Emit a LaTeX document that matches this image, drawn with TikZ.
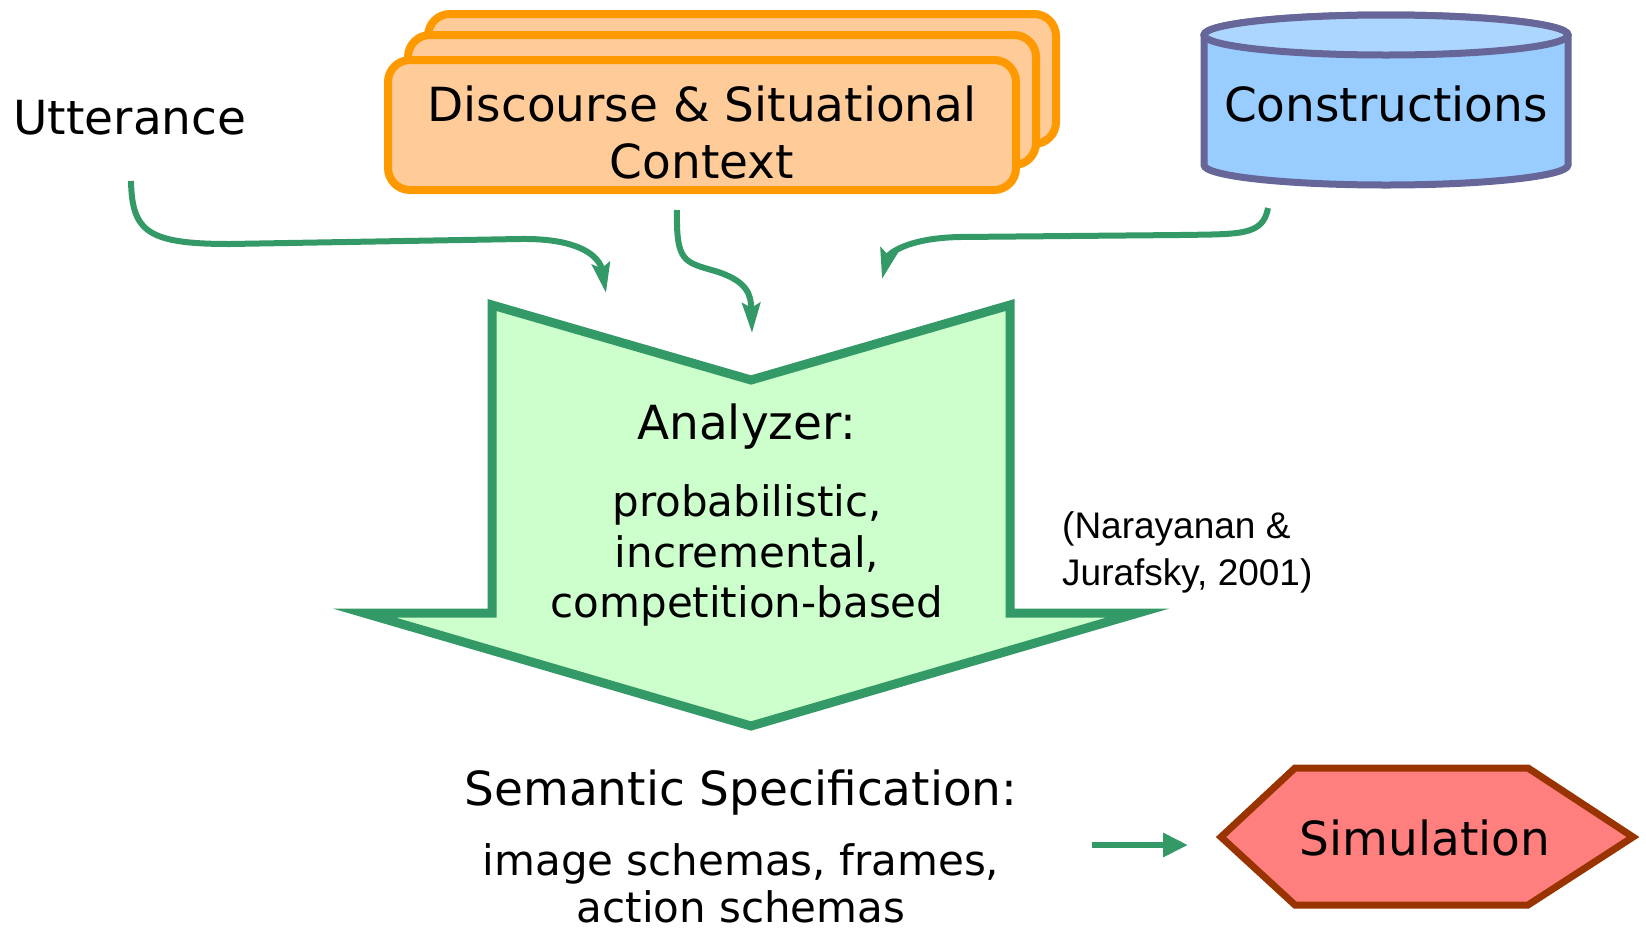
\documentclass[tikz,border=0pt]{standalone}
\usepackage{fontspec}
\setmainfont{DejaVu Sans}
\newfontfamily\citefont{Liberation Sans}
\usetikzlibrary{arrows.meta}
\definecolor{arrgreen}{HTML}{339966}
\definecolor{anfill}{HTML}{CCFFCC}
\definecolor{ctxorange}{HTML}{FF9900}
\definecolor{ctxfill}{HTML}{FFCC99}
\definecolor{cylstroke}{HTML}{666699}
\definecolor{cylbody}{HTML}{99CCFF}
\definecolor{cyltop}{HTML}{ADD6FF}
\definecolor{simfill}{HTML}{FF7F7F}
\definecolor{simstroke}{HTML}{993300}
\begin{document}
\begin{tikzpicture}[x=1pt,y=-1pt,
  big/.style={font=\fontsize{47}{57}\selectfont, anchor=base, inner sep=0pt},
  small/.style={font=\fontsize{42}{50}\selectfont, anchor=base, inner sep=0pt},
  cite/.style={font=\citefont\fontsize{37}{45}\selectfont, anchor=base west, inner sep=0pt},
  flow/.style={draw=arrgreen, line width=6pt, -{Stealth[length=30pt,width=18pt,inset=5pt]}},
  ctxbox/.style={draw=ctxorange, fill=ctxfill, line width=8pt, rounded corners=22pt, minimum width=628pt, minimum height=130pt, inner sep=0pt},
]
\useasboundingbox (0,0) rectangle (1646,930);

% Utterance
\node[big] (utt) at (130,134) {Utterance};

% Stacked context boxes
\node[ctxbox] (ctx3) at (742,79) {};
\node[ctxbox] (ctx2) at (722,100) {};
\node[ctxbox] (ctx1) at (702,125) {};
\node[big] (ctxa) at (702,121) {Discourse \& Situational};
\node[big] (ctxb) at (702,178) {Context};

% Constructions cylinder
\filldraw[fill=cylbody, draw=cylstroke, line width=7pt]
  (1204,35) -- (1204,165) arc[start angle=180, end angle=0, x radius=182, y radius=20]
  -- (1568,35) arc[start angle=0, end angle=-180, x radius=182, y radius=20] -- cycle;
\filldraw[fill=cyltop, draw=cylstroke, line width=7pt] (1386,35) ellipse[x radius=182, y radius=20];
\node[big] (cons) at (1386,121) {Constructions};

% Analyzer big arrow
\draw[draw=arrgreen, fill=anfill, line width=9pt]
  (492,305) -- (751,380) -- (1010,305) -- (1010,613) -- (1138,613)
  -- (751,726) -- (364,613) -- (492,613) -- cycle;
\node[big] (an) at (747,439) {Analyzer:};
\node[small] (an1) at (747,516) {probabilistic,};
\node[small] (an2) at (747,567) {incremental,};
\node[small] (an3) at (747,617) {competition-based};

% Citation
\node[cite] (cit1) at (1062,538) {(Narayanan \&};
\node[cite] (cit2) at (1062,585) {Jurafsky, 2001)};

% Semantic specification
\node[big] (sem) at (741,805) {Semantic Specification:};
\node[small] (sem1) at (741,875) {image schemas, frames,};
\node[small] (sem2) at (741,922) {action schemas};

% Simulation hexagon
\draw[draw=simstroke, fill=simfill, line width=7pt]
  (1221,837) -- (1295,768) -- (1528,768) -- (1633,837) -- (1528,905) -- (1295,905) -- cycle;
\node[big] (sim) at (1425,855) {Simulation};

% Connectors
\coordinate (u0) at (131,181);
\coordinate (u1) at (606,293);
\coordinate (c0) at (677,210);
\coordinate (c1) at (752,333);
\coordinate (k0) at (1268,208);
\coordinate (k1) at (882,279);
\coordinate (s0) at (1092,845);
\coordinate (s1) at (1188,845);

\draw[flow] (u0) .. controls (132,232) and (148,244) .. (230,244) -- (520,239)
  .. controls (582,238) and (600,258) .. (u1);
\draw[flow] (c0) .. controls (676,262) and (684,262) .. (715,271)
  .. controls (748,281) and (751,295) .. (c1);
\draw[flow] (k0) .. controls (1263,236) and (1240,234) .. (1180,235) -- (960,237)
  .. controls (905,238) and (888,255) .. (k1);
\draw[draw=arrgreen, line width=6pt, -{Triangle[length=25pt,width=23pt]}] (s0) -- (s1);
\end{tikzpicture}
\end{document}
